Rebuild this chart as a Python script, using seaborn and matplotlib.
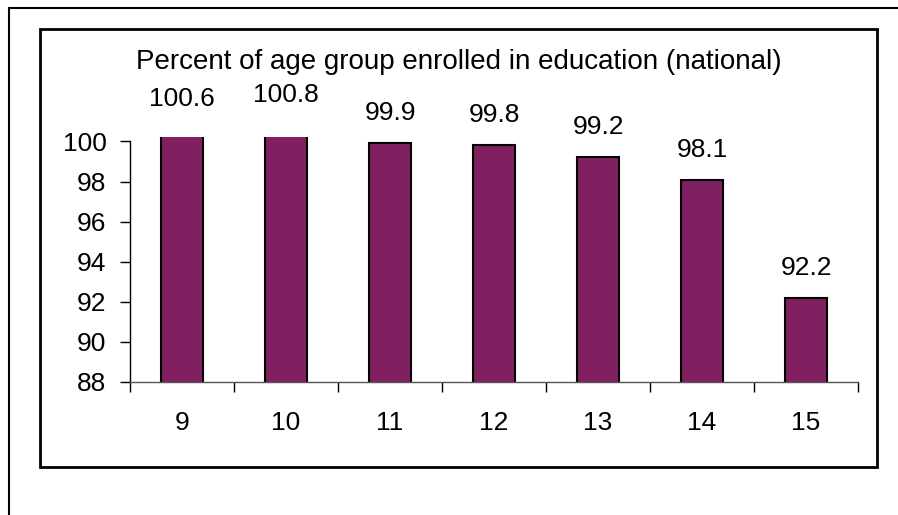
import pandas as pd
import seaborn as sns
import matplotlib.pyplot as plt
from matplotlib.lines import Line2D
from matplotlib.patches import Rectangle
import numpy as np

# chart data
ages = ['9', '10', '11', '12', '13', '14', '15']
enrolled = [100.6, 100.8, 99.9, 99.8, 99.2, 98.1, 92.2]
y_ticks = [88, 90, 92, 94, 96, 98, 100]
title = 'Percent of age group enrolled in education (national)'

df = pd.DataFrame({'age': ages, 'pct': enrolled})

sns.set_style('white')
plt.rcParams['font.family'] = ['Liberation Sans', 'DejaVu Sans']
plt.rcParams['text.color'] = 'black'
plt.rcParams['xtick.color'] = 'black'
plt.rcParams['ytick.color'] = 'black'

fig = plt.figure(figsize=(8.98, 5.15), dpi=100)
ax = fig.add_axes([0.1448, 0.2583, 0.8107, 0.4749])

sns.barplot(data=df, x='age', y='pct', order=ages, color='#802060',
            saturation=1, width=0.4, edgecolor='black', linewidth=1.5, ax=ax)

ax.set_ylim(88, 100.2)
ax.set_xlim(-0.5, len(ages) - 0.5)
ax.set_yticks(y_ticks)
ax.set_xticks(range(len(ages)))
ax.set_xticklabels(ages)
ax.set_xticks(np.arange(-0.5, len(ages)), minor=True)
ax.tick_params(axis='x', which='major', bottom=True, length=0, pad=21, labelsize=19)
ax.tick_params(axis='x', which='minor', bottom=True, length=7, width=1, direction='out', color='black')
ax.tick_params(axis='y', left=True, length=7, width=1, direction='out', pad=10, labelsize=19, color='black')
ax.set_xlabel('')
ax.set_ylabel('')

for s in ['top', 'right']:
    ax.spines[s].set_visible(False)
ax.spines['left'].set_bounds(88, 100)
ax.spines['left'].set_color('black')
ax.spines['bottom'].set_color('#555555')
ax.spines['left'].set_linewidth(1)
ax.spines['bottom'].set_linewidth(1)

# value labels above each bar
for i, v in enumerate(enrolled):
    ax.annotate(f'{v:.1f}', xy=(i, v), xytext=(0, 21.6), textcoords='offset points',
                ha='center', va='center', fontsize=19, annotation_clip=False)

fig.text(0.511, 0.88, title, ha='center', va='center', fontsize=20)

# inner chart frame
fig.add_artist(Rectangle((40 / 898, 1 - 467 / 515), 837 / 898, 438 / 515,
                         transform=fig.transFigure, fill=False,
                         edgecolor='black', linewidth=2))
# outer frame (left and top edges only visible)
fig.add_artist(Line2D([9 / 898, 9 / 898], [0, 1 - 8 / 515], transform=fig.transFigure,
                      color='black', linewidth=1.5))
fig.add_artist(Line2D([9 / 898, 1], [1 - 8 / 515, 1 - 8 / 515], transform=fig.transFigure,
                      color='black', linewidth=1.5))

fig.savefig('out.png', dpi=100)
